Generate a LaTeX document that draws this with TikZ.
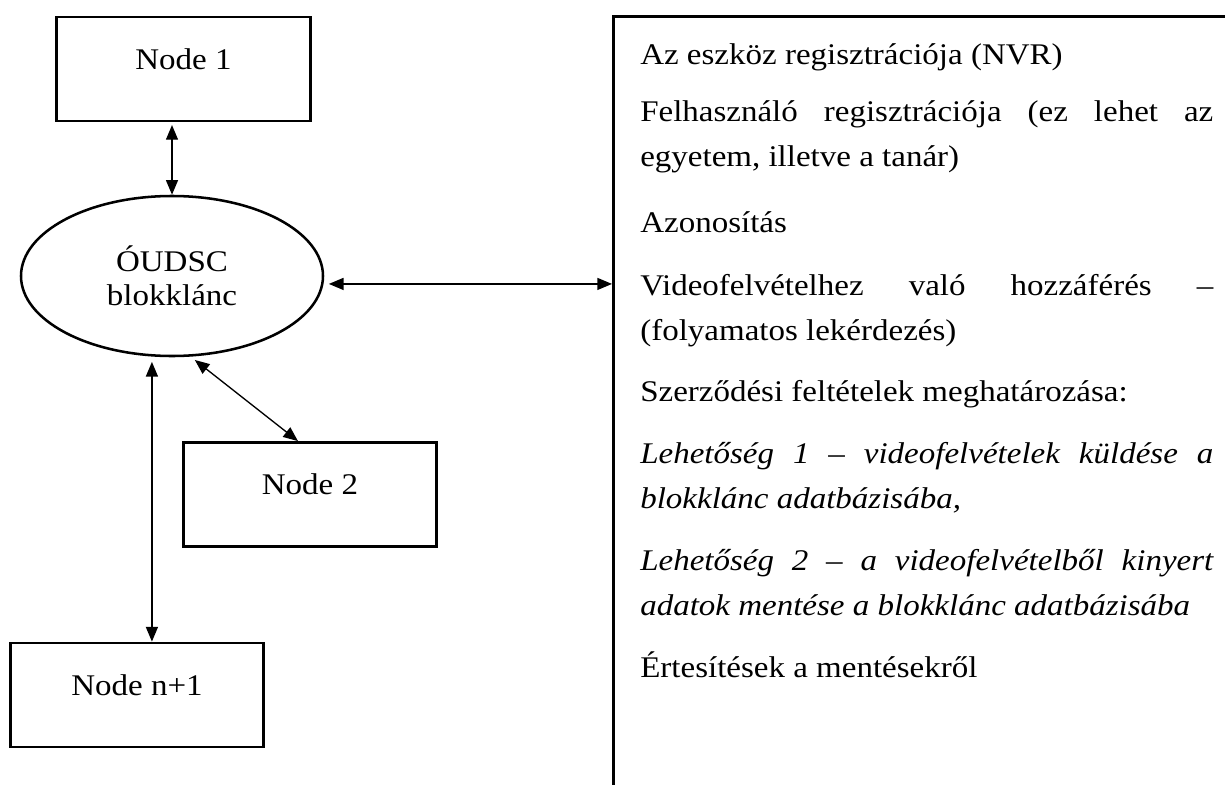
\documentclass[tikz,border=0pt]{standalone}
\usepackage{fontspec}
\setmainfont[FakeStretch=1.1]{Liberation Serif}
\usetikzlibrary{shapes.geometric,arrows.meta,calc}

\begin{document}
\begin{tikzpicture}[x=0.75pt,y=-0.75pt,
  nodebox/.style={draw, line width=2.1pt, rectangle, inner sep=0pt,
    minimum width=190pt, minimum height=78pt,
    text height=16pt, text depth=16pt,
    font=\fontsize{22.5}{27}\selectfont},
  chain/.style={draw, line width=1.9pt, ellipse, inner sep=0pt,
    minimum width=226.5pt, minimum height=120pt, align=center,
    font=\fontsize{22.5}{25.5}\selectfont},
  panel/.style={draw, line width=2.1pt, rectangle, inner sep=0pt,
    minimum width=540pt, minimum height=620pt},
  paneltext/.style={anchor=base west, inner sep=0pt, text width=429.75pt,
    align=justify, font=\fontsize{22.5}{33.75}\selectfont},
  link/.style={line width=1pt,
    {Triangle[length=11pt,width=9pt]}-{Triangle[length=11pt,width=9pt]}}
]
\useasboundingbox (0,0) rectangle (1225,785);
\clip (0,0) rectangle (1225,785);

% nodes of the network
\node[nodebox] (n1) at (183.5,69) {Node 1};
\node[chain] (oudsc) at (172,276) {ÓUDSC\\blokklánc};
\node[nodebox] (n2) at (310,494.5) {Node 2};
\node[nodebox] (nn) at (137,695) {Node n+1};

% functions panel, running off the right and bottom edges
\node[panel, anchor=north west] (info) at (612,15) {};
\node[paneltext] (infotext) at (640,64) {%
  \hyphenpenalty=10000 \exhyphenpenalty=10000
  \setlength{\parskip}{12.75pt}%
  Az eszköz regisztrációja (NVR)\par
  \vspace{-3pt}Felhasználó regisztrációja (ez lehet az\linebreak egyetem, illetve a tanár)\par
  \vspace{3pt}Azonosítás\par
  Videofelvételhez való hozzáférés –\linebreak (folyamatos lekérdezés)\par
  Szerződési feltételek meghatározása:\par
  \textit{Lehetőség 1 – videofelvételek küldése a\linebreak blokklánc adatbázisába,}\par
  \textit{Lehetőség 2 – a videofelvételből kinyert\linebreak adatok mentése a blokklánc adatbázisába}\par
  Értesítések a mentésekről\par};

% connectors
\draw[link, shorten <=2pt] (oudsc.north |- n1.south) -- (oudsc.north);
\draw[link, shorten <=4pt] (oudsc.-3) -- (oudsc.-3 -| info.west);
\draw[link, shorten <=4pt] (oudsc.283) -- ([xshift=-9pt]n2.north);
\draw[link, shorten <=4pt] (oudsc.256) -- (oudsc.256 |- nn.north);
\end{tikzpicture}
\end{document}
